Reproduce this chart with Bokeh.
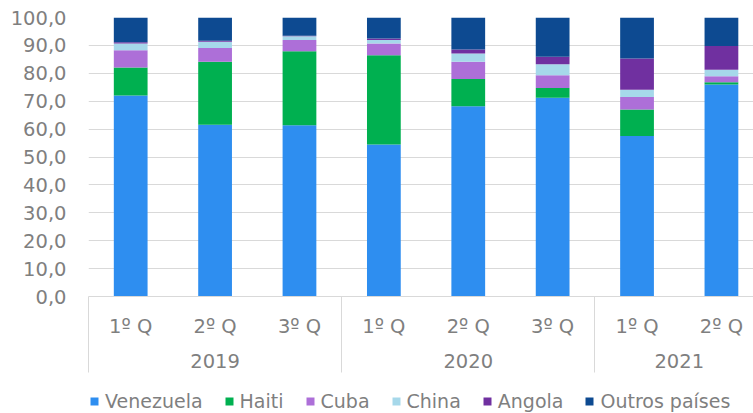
from bokeh.plotting import figure
from bokeh.layouts import column
from bokeh.models import Range1d, FixedTicker, LinearAxis, Legend, LegendItem, ColumnDataSource
from bokeh.embed import file_html
from bokeh.resources import INLINE

# ---- data ----
quarters = ["1º Q", "2º Q", "3º Q", "1º Q", "2º Q", "3º Q", "1º Q", "2º Q"]
years = ["2019", "2020", "2021"]
year_sizes = [3, 3, 2]
countries = ["Venezuela", "Haiti", "Cuba", "China", "Angola", "Outros países"]
venezuela = [72.0, 61.6, 61.4, 54.5, 68.2, 71.2, 57.5, 76.0]
haiti = [10.1, 22.5, 26.5, 32.0, 9.8, 3.5, 9.5, 0.8]
cuba = [6.2, 5.0, 4.0, 4.2, 6.1, 4.6, 4.5, 2.1]
china = [2.4, 2.2, 1.4, 1.2, 3.0, 3.9, 2.6, 2.4]
angola = [0.4, 0.4, 0.2, 0.6, 1.4, 2.7, 11.2, 8.5]
outros = [8.9, 8.3, 6.5, 7.5, 11.5, 14.1, 14.7, 10.2]
y_ticks = [0, 10, 20, 30, 40, 50, 60, 70, 80, 90, 100]
y_tick_labels = ["0,0", "10,0", "20,0", "30,0", "40,0", "50,0",
                 "60,0", "70,0", "80,0", "90,0", "100,0"]

colors = ["#2e8ef0", "#00b050", "#ad6fd8", "#a6d8ea", "#7030a0", "#0d4a91"]
TEXT = "#7f7f7f"
GRID = "#d9d9d9"
FONT = "DejaVu Sans"
FS = "19.5px"

x = [i + 0.5 for i in range(len(quarters))]
source = ColumnDataSource(dict(x=x, **dict(zip(countries, [venezuela, haiti, cuba, china, angola, outros]))))

# group boundaries and centres
bounds = [0]
for s in year_sizes:
    bounds.append(bounds[-1] + s)
year_centers = [(bounds[i] + bounds[i + 1]) / 2 for i in range(len(years))]

p = figure(width=753, height=379, x_range=Range1d(0, 7.88), y_range=Range1d(0, 100),
           output_backend="svg", toolbar_location=None,
           min_border_left=88, min_border_right=0, min_border_top=17, min_border_bottom=83,
           x_axis_location=None)
p.outline_line_color = None
p.background_fill_color = "white"
p.border_fill_color = "white"

renderers = p.vbar_stack(countries, x="x", width=0.4, source=source, color=colors, line_color=None)

# y axis
ya = p.yaxis[0]
ya.ticker = FixedTicker(ticks=y_ticks)
ya.major_label_overrides = {t: l for t, l in zip(y_ticks, y_tick_labels)}
ya.axis_line_color = None
ya.major_tick_line_color = None
ya.minor_tick_line_color = None
ya.major_label_standoff = 16
ya.major_label_text_font = FONT
ya.major_label_text_font_size = FS
ya.major_label_text_color = TEXT

p.ygrid.ticker = FixedTicker(ticks=y_ticks)
p.ygrid.grid_line_color = GRID
p.xgrid.visible = False

# quarter axis (minor ticks act as group separators)
ax1 = LinearAxis(ticker=FixedTicker(ticks=x, minor_ticks=bounds[:-1]),
                 major_label_overrides={t: l for t, l in zip(x, quarters)})
ax1.axis_line_color = GRID
ax1.major_tick_line_color = None
ax1.major_tick_out = 0
ax1.major_tick_in = 0
ax1.minor_tick_in = 0
ax1.minor_tick_out = 76
ax1.minor_tick_line_color = GRID
ax1.major_label_standoff = -58
ax1.major_label_text_font = FONT
ax1.major_label_text_font_size = FS
ax1.major_label_text_color = TEXT
p.add_layout(ax1, "below")

# year axis
ax2 = LinearAxis(ticker=FixedTicker(ticks=year_centers, minor_ticks=[]),
                 major_label_overrides={t: l for t, l in zip(year_centers, years)})
ax2.axis_line_color = None
ax2.major_tick_line_color = None
ax2.minor_tick_line_color = None
ax2.major_tick_out = 0
ax2.major_tick_in = 0
ax2.minor_tick_out = 0
ax2.minor_tick_in = 0
ax2.major_label_standoff = 13
ax2.major_label_text_font = FONT
ax2.major_label_text_font_size = FS
ax2.major_label_text_color = TEXT
p.add_layout(ax2, "below")

# legend strip (its zero-width stacked bars lie far outside the strip's visible y range)
q = figure(width=753, height=34, x_range=Range1d(0, 7.88), y_range=Range1d(-1000, -999),
           output_backend="svg", toolbar_location=None,
           min_border_left=0, min_border_right=0, min_border_top=0, min_border_bottom=0,
           x_axis_location=None, y_axis_location=None)
q.outline_line_color = None
q.xgrid.visible = False
q.ygrid.visible = False
swatches = q.vbar_stack(countries, x="x", width=0, source=source, color=colors, line_color=None)
legend = Legend(items=[LegendItem(label=c, renderers=[r]) for c, r in zip(countries, swatches)],
                orientation="horizontal", location=(1, 1), padding=0, margin=0,
                spacing=21, glyph_width=10, glyph_height=10, label_standoff=6,
                border_line_color=None, background_fill_alpha=0,
                label_text_font=FONT, label_text_font_size="19px", label_text_color=TEXT)
q.add_layout(legend)

layout = column(p, q, spacing=0)
open("out.html", "w").write(file_html(layout, INLINE))
